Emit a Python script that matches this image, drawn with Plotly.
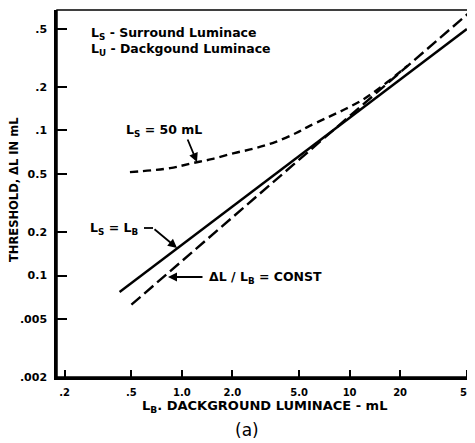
import numpy as np
import plotly.graph_objects as go

# ---- data ----
lb_equal_x = [0.425, 50.0]
lb_equal_y = [0.0077, 0.50]

const_x = [0.5, 51.0]
const_y = [0.0063, 0.64]

ls50_x = [0.49, 0.85, 1.16, 1.5, 2.05, 2.75, 3.6, 4.8, 5.6, 7.4, 9.5, 12.1, 14.9, 18.9, 22.2]
ls50_y = [0.0516, 0.055, 0.0596, 0.0634, 0.0698, 0.0755, 0.0832, 0.096, 0.1055, 0.123, 0.141, 0.164, 0.194, 0.24, 0.28]

x_tick_vals = [0.2, 0.5, 1, 2, 5, 10, 20, 50]
x_tick_text = [".2", ".5", "1.0", "2.0", "5.0", "10", "20", "50"]
y_tick_vals = [0.5, 0.2, 0.1, 0.05, 0.02, 0.01, 0.005, 0.002]
y_tick_text = [".5", ".2", ".1", "0.5", "0.2", "0.1", ".005", ".002"]

# page body has an 8px margin, so the figure is shifted by 8px
OFF = 8
W, H = 470, 435
L, R, T, B = 57, 469, 10, 377   # plot frame in reference pixels


def px(x):
    return (x - L) / (R - L)


def py(y):
    return (B - y) / (B - T)


FONT = "DejaVu Sans"
fig = go.Figure()
fig.add_trace(go.Scatter(x=lb_equal_x, y=lb_equal_y, mode="lines",
                         line=dict(color="black", width=2.4), showlegend=False))
fig.add_trace(go.Scatter(x=const_x, y=const_y, mode="lines",
                         line=dict(color="black", width=2.4, dash="12px,5px"), showlegend=False))
fig.add_trace(go.Scatter(x=ls50_x, y=ls50_y, mode="lines", line_shape="spline",
                         line=dict(color="black", width=2.4, dash="8px,5px"), showlegend=False))

fig.update_xaxes(type="log", range=[np.log10(0.18), np.log10(51.5)],
                 tickvals=x_tick_vals, ticktext=x_tick_text,
                 ticks="inside", ticklen=7, tickwidth=2, tickcolor="black",
                 showline=True, linecolor="black", linewidth=2.5,
                 showgrid=False, zeroline=False, ticklabelstandoff=4,
                 tickfont=dict(family=FONT, size=10, color="black", weight="bold"))
fig.update_yaxes(type="log", range=[np.log10(0.002), -0.170],
                 tickvals=y_tick_vals, ticktext=y_tick_text,
                 ticks="inside", ticklen=10, tickwidth=2, tickcolor="black",
                 showline=True, linecolor="black", linewidth=2.5,
                 showgrid=False, zeroline=False, ticklabelstandoff=5,
                 tickfont=dict(family=FONT, size=11, color="black", weight="bold"))

ann = []
tf = dict(family=FONT, size=12.5, color="black", weight="bold")
ann.append(dict(x=px(89), y=py(33), xref="paper", yref="paper", xanchor="left", yanchor="middle",
                text="L<sub>S</sub> - Surround Luminace", showarrow=False, font=tf))
ann.append(dict(x=px(89), y=py(49), xref="paper", yref="paper", xanchor="left", yanchor="middle",
                text="L<sub>U</sub> - Dackgound Luminace", showarrow=False, font=tf))
ann.append(dict(x=px(124), y=py(130), xref="paper", yref="paper", xanchor="left", yanchor="middle",
                text="L<sub>S</sub> = 50 mL", showarrow=False, font=tf))
ann.append(dict(x=px(88), y=py(228), xref="paper", yref="paper", xanchor="left", yanchor="middle",
                text="L<sub>S</sub> = L<sub>B</sub>", showarrow=False, font=tf))
ann.append(dict(x=px(207), y=py(277), xref="paper", yref="paper", xanchor="left", yanchor="middle",
                text="ΔL / L<sub>B</sub> = CONST", showarrow=False, font=tf))
# arrows
ann.append(dict(x=px(197), y=py(162), xref="paper", yref="paper", text="", showarrow=True,
                ax=-10, ay=-24, arrowhead=2, arrowsize=1, arrowwidth=1.8, arrowcolor="black"))
ann.append(dict(x=px(177), y=py(248), xref="paper", yref="paper", text="", showarrow=True,
                ax=-24, ay=-20, arrowhead=2, arrowsize=1, arrowwidth=1.8, arrowcolor="black"))
ann.append(dict(x=px(168), y=py(277), xref="paper", yref="paper", text="", showarrow=True,
                ax=36, ay=0, arrowhead=2, arrowsize=1, arrowwidth=1.8, arrowcolor="black"))
# axis titles
ann.append(dict(x=px(264), y=py(406), xref="paper", yref="paper", xanchor="center", yanchor="middle",
                text="L<sub>B</sub>. DACKGROUND LUMINACE - mL", showarrow=False,
                font=dict(family=FONT, size=13, color="black", weight="bold")))
ann.append(dict(x=px(14), y=py(190), xref="paper", yref="paper", xanchor="center", yanchor="middle",
                text="THRESHOLD, ΔL IN mL", showarrow=False, textangle=-90,
                font=dict(family=FONT, size=11.5, color="black", weight="bold")))
ann.append(dict(x=px(247), y=py(430), xref="paper", yref="paper", xanchor="center", yanchor="middle",
                text="(a)", showarrow=False,
                font=dict(family=FONT, size=17, color="black")))

shapes = [
    dict(type="rect", xref="paper", yref="paper", x0=0, y0=0, x1=1, y1=1,
         line=dict(color="black", width=1.5)),
    dict(type="line", xref="paper", yref="paper", x0=px(144), y0=py(228), x1=px(153), y1=py(228),
         line=dict(color="black", width=1.8)),
]

fig.update_layout(width=W, height=H,
                  margin=dict(l=L - OFF, r=W - (R - OFF), t=T - OFF, b=H - (B - OFF)),
                  paper_bgcolor="white", plot_bgcolor="white",
                  annotations=ann, shapes=shapes)
fig.write_html("out.html")
